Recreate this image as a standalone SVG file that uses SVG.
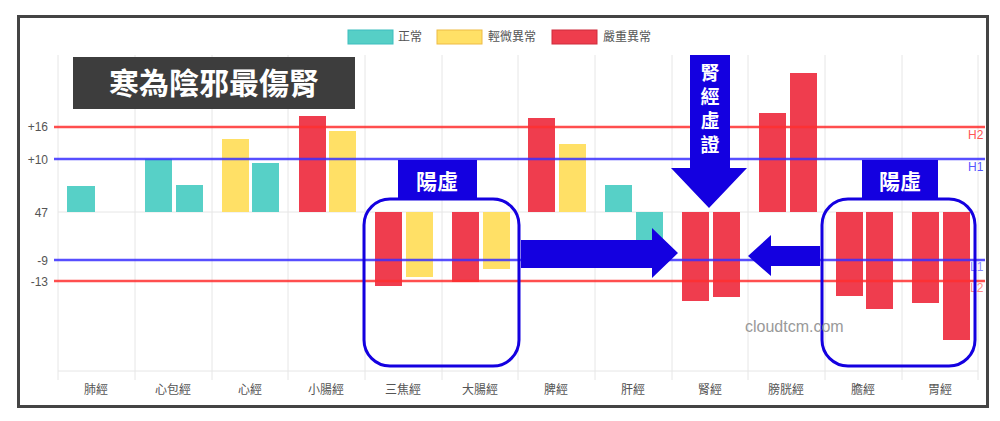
<svg xmlns="http://www.w3.org/2000/svg" width="1000" height="421" viewBox="0 0 1000 421">
<style>
text{font-family:"Liberation Sans","Noto Sans CJK TC",sans-serif}
.ax{font-size:12px;fill:#555}
.t{fill:#4ecdc4;opacity:.95}.y{fill:#ffe066}.r{fill:#ee3344;opacity:.95}
.grid{stroke:#e6e6e6;stroke-width:1}
.wb{fill:#fff;font-weight:bold}
</style>
<rect width="1000" height="421" fill="#fff"/>
<rect x="18.5" y="16.5" width="969" height="390" fill="none" stroke="#444" stroke-width="3"/>
<g id="grid">
<path class="grid" d="M58 55V380M135 55V380M212 55V380M288 55V380M365 55V380M442 55V380M518 55V380M595 55V380M672 55V380M748 55V380M825 55V380M902 55V380M978 55V380M58 212H978M58 371H978"/>
</g>
<g id="legend" font-size="12">
<rect x="348" y="30" width="45" height="14" class="t" stroke="#3bb" />
<text x="398" y="41" class="ax">正常</text>
<rect x="437" y="30" width="45" height="14" class="y" stroke="#eb4"/>
<text x="488" y="41" class="ax">輕微異常</text>
<rect x="552" y="30" width="45" height="14" class="r" stroke="#c23"/>
<text x="603" y="41" class="ax">嚴重異常</text>
</g>
<g id="yaxis" class="ax" text-anchor="end">
<text x="48" y="131">+16</text><text x="48" y="164">+10</text><text x="48" y="217">47</text><text x="48" y="265">-9</text><text x="48" y="286">-13</text>
</g>
<g id="xaxis" class="ax" text-anchor="middle">
<text x="96" y="394">肺經</text><text x="173" y="394">心包經</text><text x="250" y="394">心經</text><text x="326" y="394">小腸經</text><text x="403" y="394">三焦經</text><text x="480" y="394">大腸經</text><text x="556" y="394">脾經</text><text x="633" y="394">肝經</text><text x="710" y="394">腎經</text><text x="786" y="394">膀胱經</text><text x="863" y="394">膽經</text><text x="940" y="394">胃經</text>
</g>
<g id="bars">
<rect class="t" x="67" y="186" width="28" height="26"/>
<rect class="t" x="145" y="159" width="27" height="53"/><rect class="t" x="176" y="185" width="27" height="27"/>
<rect class="y" x="222" y="139" width="27" height="73"/><rect class="t" x="252" y="163" width="27" height="49"/>
<rect class="r" x="299" y="116" width="27" height="96"/><rect class="y" x="329" y="131" width="27" height="81"/>
<rect class="r" x="375" y="212" width="27" height="74"/><rect class="y" x="406" y="212" width="27" height="65"/>
<rect class="r" x="452" y="212" width="27" height="70"/><rect class="y" x="483" y="212" width="27" height="57"/>
<rect class="r" x="528" y="118" width="27" height="94"/><rect class="y" x="559" y="144" width="27" height="68"/>
<rect class="t" x="605" y="185" width="27" height="27"/><rect class="t" x="636" y="212" width="27" height="28"/>
<rect class="r" x="682" y="212" width="27" height="89"/><rect class="r" x="713" y="212" width="27" height="85"/>
<rect class="r" x="759" y="113" width="27" height="99"/><rect class="r" x="790" y="73" width="27" height="139"/>
<rect class="r" x="836" y="212" width="27" height="84"/><rect class="r" x="866" y="212" width="27" height="97"/>
<rect class="r" x="912" y="212" width="27" height="91"/><rect class="r" x="943" y="212" width="27" height="128"/>
</g>
<g id="refs" font-size="12">
<path d="M54 127H985" stroke="#ff3030" stroke-width="2.5" opacity=".85"/>
<path d="M54 159H985" stroke="#3a30ff" stroke-width="2.5" opacity=".85"/>
<path d="M54 260H985" stroke="#3a30ff" stroke-width="2.5" opacity=".85"/>
<path d="M54 281H985" stroke="#ff3030" stroke-width="2.5" opacity=".85"/>
<text x="968" y="139" fill="#f55">H2</text><text x="968" y="171" fill="#55f">H1</text>
<text x="970" y="271" fill="#88f">L1</text><text x="970" y="292" fill="#f88">L2</text>
</g>
<g id="title"><rect x="73" y="57" width="282" height="52" fill="#3d3d3d"/>
<text x="214" y="94" text-anchor="middle" font-size="30" class="wb">寒為陰邪最傷腎</text></g>
<g id="box1"><rect x="364" y="199" width="155" height="167" rx="26" fill="none" stroke="#1400e0" stroke-width="3"/>
<rect x="398" y="160" width="79" height="40" fill="#1400e0"/><text x="437" y="189" text-anchor="middle" font-size="21" class="wb">陽虛</text></g>
<g id="box2"><rect x="822" y="199" width="153" height="167" rx="26" fill="none" stroke="#1400e0" stroke-width="3"/>
<rect x="862" y="160" width="76" height="40" fill="#1400e0"/><text x="900" y="189" text-anchor="middle" font-size="21" class="wb">陽虛</text></g>
<g id="connectors" fill="#1400e0">
<polygon points="521,240 652,240 652,228 678,253 652,278 652,268 521,268"/>
<polygon points="820,246 771,246 771,235 748,256 771,276 771,266 820,266"/>
<polygon points="690,55 730,55 730,168 747,168 709,208 671,168 690,168"/>
</g>
<g id="label" font-size="19" class="wb" text-anchor="middle">
<text x="710" y="80" class="wb">腎</text><text x="710" y="104" class="wb">經</text><text x="710" y="128" class="wb">虛</text><text x="710" y="152" class="wb">證</text>
</g>
<text x="745" y="332" font-size="16" fill="#999">cloudtcm.com</text>
</svg>
